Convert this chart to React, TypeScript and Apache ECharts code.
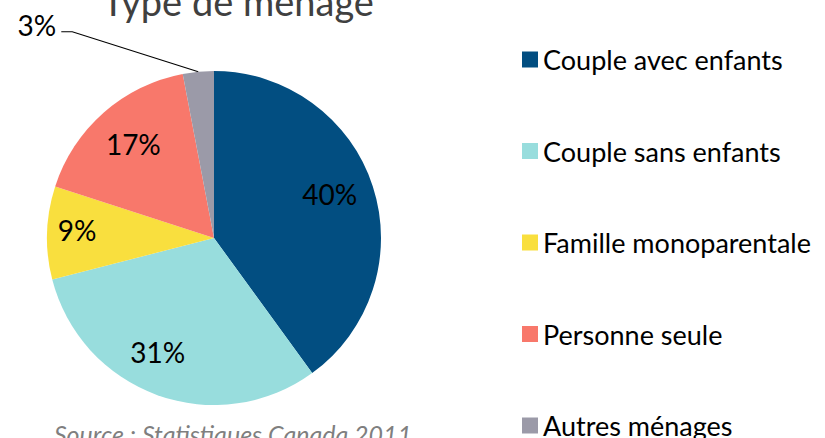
import { useEffect, useRef } from 'react';
import * as echarts from 'echarts';

const categories = [
  'Couple avec enfants',
  'Couple sans enfants',
  'Famille monoparentale',
  'Personne seule',
  'Autres ménages',
];
const values = [40, 31, 9, 17, 3];
const colors = ['#024E81', '#98DDDD', '#F9DF3E', '#F8786B', '#9B9AA8'];
const titleText = 'Type de ménage';
const sourceText = 'Source : Statistiques Canada 2011';

const CX = 214;
const CY = 238;
const R = 167;
const FONT = 'Lato, "Open Sans", sans-serif';
// small placement nudges for the in-slice labels (layout only)
const LABEL_NUDGE = [
  [-6, -4],
  [-13, -6],
  [-9, -4],
  [4, 2],
];

export default function App() {
  const ref = useRef<HTMLDivElement>(null);
  useEffect(() => {
    document.body.style.margin = '0';
    const chart = echarts.init(ref.current!, null, { renderer: 'svg' });
    chart.setOption({
      animation: false,
      backgroundColor: '#ffffff',
      graphic: [
        {
          type: 'text',
          x: 238,
          y: 1,
          style: {
            text: titleText,
            fontFamily: FONT,
            fontSize: 38,
            fill: '#404040',
            textAlign: 'center',
            textVerticalAlign: 'middle',
          },
        },
        {
          type: 'text',
          x: 233,
          y: 434,
          style: {
            text: sourceText,
            fontFamily: FONT,
            fontSize: 25,
            fontStyle: 'italic',
            fill: '#7F7F7F',
            textAlign: 'center',
            textVerticalAlign: 'middle',
          },
        },
      ],
      legend: {
        orient: 'vertical',
        left: 522,
        top: 46,
        height: 400,
        padding: 0,
        icon: 'rect',
        itemWidth: 16,
        itemHeight: 16,
        itemGap: 64.5,
        selectedMode: false,
        data: categories.map((name, i) => ({ name, itemStyle: { color: colors[i] } })),
        textStyle: {
          fontFamily: FONT,
          fontSize: 27,
          color: '#000',
        },
      },
      series: [
        {
          type: 'pie',
          center: [CX, CY],
          radius: R,
          startAngle: 90,
          clockwise: true,
          silent: true,
          data: categories.map((name, i) => ({
            name,
            value: values[i],
            itemStyle: { color: colors[i] },
            label: { position: i === 4 ? 'outside' : 'inside' },
            labelLine: { show: i === 4 },
          })),
          label: {
            show: true,
            formatter: '{c}%',
            fontFamily: FONT,
            fontSize: 28,
            color: '#000',
          },
          labelLine: { lineStyle: { color: '#000', width: 1.2 }, length: 10, length2: 10 },
          labelLayout: (p: any) => {
            const r = p.labelRect;
            if (p.dataIndex === 4) {
              const s = p.labelLinePoints ? p.labelLinePoints[0] : [CX - 16, CY - R];
              return {
                x: s[0] - 142,
                y: s[1] - 47,
                align: 'right',
                verticalAlign: 'middle',
                labelLinePoints: [
                  [s[0], s[1]],
                  [s[0] - 126, s[1] - 40],
                  [s[0] - 137, s[1] - 40],
                ],
              };
            }
            const lx = r.x + r.width / 2;
            const ly = r.y + r.height / 2;
            const k = 1.48;
            const n = LABEL_NUDGE[p.dataIndex] || [0, 0];
            return {
              x: CX + (lx - CX) * k + n[0],
              y: CY + (ly - CY) * k + n[1],
              align: 'center',
              verticalAlign: 'middle',
            };
          },
        },
      ],
    });
    return () => chart.dispose();
  }, []);
  return <div ref={ref} style={{ width: 825, height: 438 }} />;
}
